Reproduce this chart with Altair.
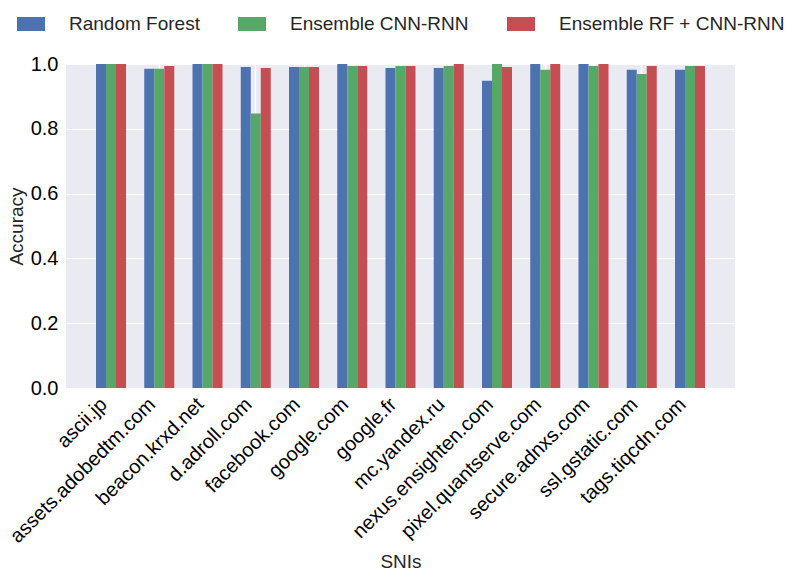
import altair as alt
import pandas as pd

snis = ["ascii.jp", "assets.adobedtm.com", "beacon.krxd.net", "d.adroll.com",
        "facebook.com", "google.com", "google.fr", "mc.yandex.ru",
        "nexus.ensighten.com", "pixel.quantserve.com", "secure.adnxs.com",
        "ssl.gstatic.com", "tags.tiqcdn.com"]
models = ["Random Forest", "Ensemble CNN-RNN", "Ensemble RF + CNN-RNN"]
rf = [1.0, 0.985, 1.0, 0.991, 0.991, 1.0, 0.988, 0.988, 0.948, 1.0, 1.0, 0.982, 0.982]
cnn = [1.0, 0.985, 1.0, 0.847, 0.991, 0.994, 0.994, 0.994, 1.0, 0.982, 0.994, 0.969, 0.994]
ens = [1.0, 0.994, 1.0, 0.988, 0.991, 0.994, 0.994, 1.0, 0.991, 1.0, 1.0, 0.994, 0.994]
colors = ["#4C72B0", "#55A868", "#C44E52"]

rows = []
for i, s in enumerate(snis):
    for m, vals in zip(models, [rf, cnn, ens]):
        rows.append({"SNI": s, "Model": m, "Accuracy": vals[i]})
df = pd.DataFrame(rows)

FONT = "Liberation Sans"

chart = alt.Chart(df).mark_bar().encode(
    x=alt.X("SNI:N", sort=snis, title="SNIs",
            scale=alt.Scale(paddingInner=0.378, paddingOuter=0.622),
            axis=alt.Axis(labelAngle=315, labelAlign="right", labelBaseline="bottom",
                          labelFontSize=20, labelColor="#000000", labelFont=FONT,
                          labelPadding=20, labelLimit=1000, tickSize=0, domain=False,
                          grid=True, gridColor="white", gridWidth=1.2,
                          titleFontSize=19, titleFont=FONT, titleColor="#262626",
                          titleFontWeight="normal", titleBaseline="top", titleY=164)),
    xOffset=alt.XOffset("Model:N", sort=models,
                        scale=alt.Scale(paddingInner=0, paddingOuter=0)),
    y=alt.Y("Accuracy:Q", title="Accuracy",
            scale=alt.Scale(domain=[0, 1], nice=False),
            axis=alt.Axis(values=[0, 0.2, 0.4, 0.6, 0.8, 1.0], format=".1f",
                          labelFontSize=20, labelColor="#000000", labelFont=FONT,
                          labelPadding=8, tickSize=0, domain=False, grid=True,
                          gridColor="white", gridWidth=1.2,
                          titleFontSize=19, titleFont=FONT, titleColor="#262626",
                          titleFontWeight="normal", titlePadding=4)),
    color=alt.Color("Model:N", sort=models,
                    scale=alt.Scale(domain=models, range=colors),
                    legend=alt.Legend(title=None, orient="none", direction="horizontal",
                                      legendX=-49, legendY=-54,
                                      symbolType="M-1,-0.5H1V0.5H-1Z", symbolSize=784,
                                      symbolStrokeWidth=0, symbolOpacity=1,
                                      labelFontSize=19, labelFont=FONT, labelLimit=1000,
                                      labelColor="#262626", labelOffset=24,
                                      columnPadding=38)),
).properties(
    width=669, height=324,
    background="white",
    autosize=alt.AutoSizeParams(type="none"),
    padding={"left": 58, "top": 56, "right": 57, "bottom": 180},
).configure_view(
    fill="#EAEAF2", stroke=None
)

chart.save("out.html", embed_options={"renderer": "svg", "actions": False})
